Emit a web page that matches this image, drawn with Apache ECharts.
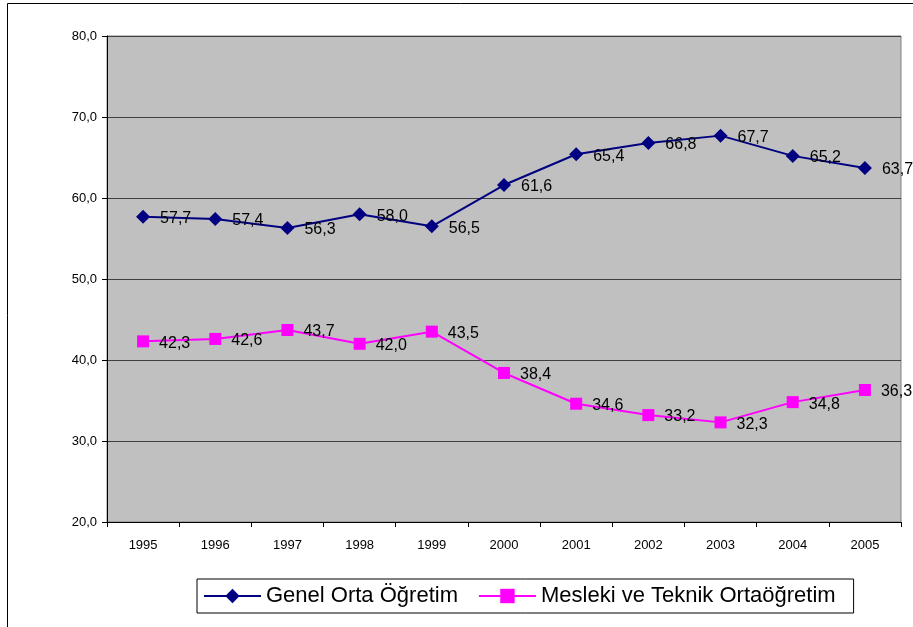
<!DOCTYPE html>
<html>
<head>
<meta charset="utf-8">
<script src="https://cdn.jsdelivr.net/npm/echarts@6/dist/echarts.min.js"></script>
<style>
html, body { margin: 0; padding: 0; background: #fff; }
#chart { width: 913px; height: 627px; }
</style>
</head>
<body>
<div id="chart"></div>
<script>
var years = ["1995", "1996", "1997", "1998", "1999", "2000", "2001", "2002", "2003", "2004", "2005"];
var genel = [57.7, 57.4, 56.3, 58.0, 56.5, 61.6, 65.4, 66.8, 67.7, 65.2, 63.7];
var mesleki = [42.3, 42.6, 43.7, 42.0, 43.5, 38.4, 34.6, 33.2, 32.3, 34.8, 36.3];

function comma(v) {
    return v.toFixed(1).replace(".", ",");
}

var myChart = echarts.init(document.getElementById("chart"));
var labelStyle = {
    show: true,
    position: "right",
    distance: 10,
    offset: [0, 2],
    color: "#000",
    fontFamily: "Liberation Sans",
    fontSize: 16,
    formatter: function (p) { return comma(p.value); }
};

var option = {
    animation: false,
    graphic: [{
        type: "rect",
        shape: { x: 7.5, y: 3.5, width: 960, height: 700 },
        style: { fill: "none", stroke: "#000", lineWidth: 1 },
        silent: true
    }],
    grid: {
        left: 107,
        right: 12,
        top: 36,
        bottom: 105,
        show: true,
        backgroundColor: "#C0C0C0",
        borderColor: "#808080",
        borderWidth: 1
    },
    legend: {
        left: 197,
        top: 579,
        itemWidth: 57,
        itemHeight: 18,
        itemGap: 20,
        padding: [6, 18, 6, 6],
        borderColor: "#000",
        borderWidth: 1,
        textStyle: { fontFamily: "Liberation Sans", fontSize: 22, color: "#000" },
        data: ["Genel Orta Öğretim", "Mesleki ve Teknik Ortaöğretim"]
    },
    xAxis: {
        type: "category",
        data: years,
        axisLine: { lineStyle: { color: "#000", width: 1 } },
        axisTick: { show: true, length: 5, lineStyle: { color: "#000" } },
        axisLabel: { color: "#000", fontFamily: "Liberation Sans", fontSize: 13, margin: 17 }
    },
    yAxis: {
        type: "value",
        min: 20,
        max: 80,
        interval: 10,
        axisLine: { show: true, lineStyle: { color: "#000", width: 1 } },
        axisTick: { show: true, length: 5, lineStyle: { color: "#000" } },
        axisLabel: {
            color: "#000", fontFamily: "Liberation Sans", fontSize: 13, margin: 10,
            formatter: function (v) { return comma(v); }
        },
        splitLine: { lineStyle: { color: "#404040", width: 1 } }
    },
    series: [
        {
            name: "Genel Orta Öğretim",
            type: "line",
            data: genel,
            symbol: "diamond",
            symbolSize: 14,
            itemStyle: { color: "#000080" },
            lineStyle: { color: "#000080", width: 2 },
            label: labelStyle
        },
        {
            name: "Mesleki ve Teknik Ortaöğretim",
            type: "line",
            data: mesleki,
            symbol: "rect",
            symbolSize: 12,
            itemStyle: { color: "#FF00FF" },
            lineStyle: { color: "#FF00FF", width: 2 },
            label: labelStyle
        }
    ]
};
myChart.setOption(option);
</script>
</body>
</html>
